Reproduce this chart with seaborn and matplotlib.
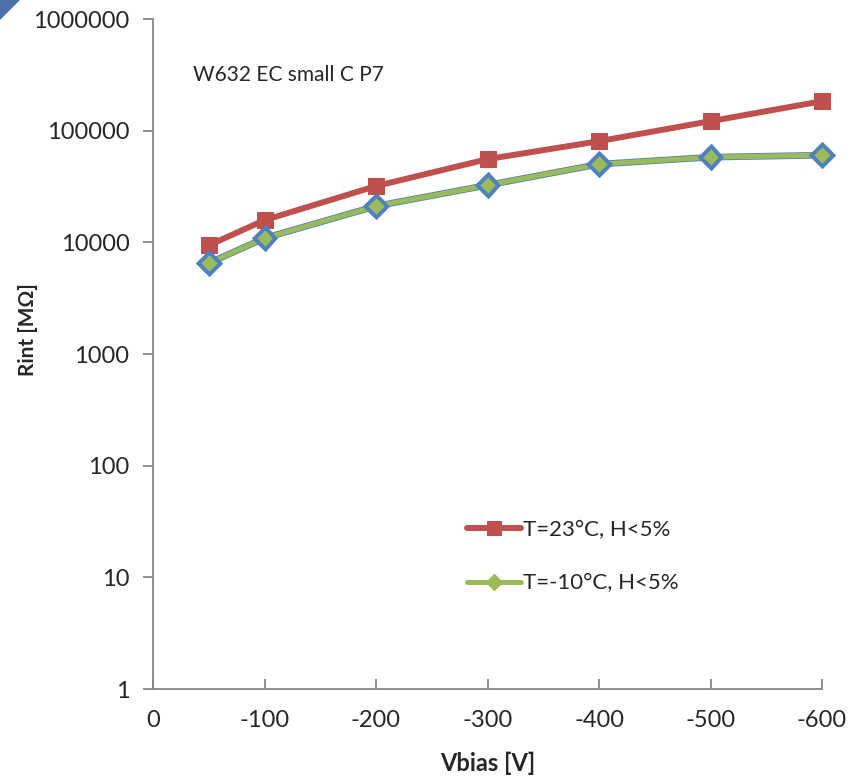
import matplotlib
matplotlib.use("Agg")
import matplotlib.pyplot as plt
import matplotlib.patheffects as pe
from matplotlib.patches import Polygon
import seaborn as sns
import pandas as pd

vbias = [-50, -100, -200, -300, -400, -500, -600]
rint_23 = [9400, 15800, 31900, 55600, 80500, 121600, 183600]
rint_m10 = [6500, 10900, 21100, 32500, 50100, 57900, 60300]
series_names = ["T=23°C, H<5%", "T=-10°C, H<5%"]
xticks = [0, -100, -200, -300, -400, -500, -600]
yticks = [1, 10, 100, 1000, 10000, 100000, 1000000]

df = pd.DataFrame({
    "Vbias": vbias * 2,
    "Rint": rint_23 + rint_m10,
    "series": [series_names[0]] * len(vbias) + [series_names[1]] * len(vbias),
})

sns.set_style("white")
plt.rcParams["font.family"] = ["Lato", "DejaVu Sans"]

fig = plt.figure(figsize=(8.61, 7.78), dpi=100)
ax = fig.add_axes([153 / 861, 1 - 689 / 778, (822 - 153) / 861, (689 - 19) / 778])

red = "#C0504D"
green = "#9BBB59"
blue = "#4F81BD"

sns.lineplot(data=df[df.series == series_names[0]], x="Vbias", y="Rint", ax=ax,
             color=red, linewidth=4.3, marker="s", markersize=11,
             markerfacecolor=red, markeredgecolor=red, label=series_names[0],
             sort=False, clip_on=False)
sns.lineplot(data=df[df.series == series_names[1]], x="Vbias", y="Rint", ax=ax,
             color=green, linewidth=3.6, marker="D", markersize=9,
             markerfacecolor=green, markeredgecolor=blue, markeredgewidth=0.9,
             label=series_names[1], sort=False, clip_on=False,
             path_effects=[pe.Stroke(linewidth=4.8, foreground=blue), pe.Normal()])

ax.set_yscale("log")
ax.set_ylim(1, 1000000)
ax.set_xlim(0, -600)
ax.set_xticks(xticks)
ax.set_xticklabels([str(v) for v in xticks])
ax.set_yticks(yticks)
ax.set_yticklabels([str(v) for v in yticks])
ax.yaxis.set_minor_locator(matplotlib.ticker.NullLocator())

for s in ["top", "right"]:
    ax.spines[s].set_visible(False)
for s in ["left", "bottom"]:
    ax.spines[s].set_color("#868686")
    ax.spines[s].set_linewidth(1.3)

ax.tick_params(axis="y", direction="out", length=7, width=1.3, color="#868686",
               labelsize=17, pad=10, left=True)
ax.tick_params(axis="x", direction="in", length=7, width=1.3, color="#868686",
               labelsize=17, pad=15, bottom=True)

ax.set_xlabel("Vbias [V]", fontsize=17, fontweight="bold")
ax.set_ylabel("Rint [MΩ]", fontsize=15, fontweight="bold")
ax.xaxis.set_label_coords(0.5, -(763 - 689) / 670)
ax.xaxis.label.set_va("center")
ax.yaxis.set_label_coords(-(153 - 28) / 669, (689 - 330) / 670)
ax.yaxis.label.set_va("center")

ax.text(0.06, 0.916, "W632 EC small C P7", transform=ax.transAxes,
        fontsize=15, ha="left", va="center")

leg = ax.legend(loc="upper left", bbox_to_anchor=(0.44, 0.282), frameon=False,
                fontsize=16, labelspacing=1.5, handlelength=2.4, handletextpad=0.1)
h = leg.legend_handles[1]
h.set_path_effects([])
h.set_markeredgecolor(green)
h.set_markersize(8)
leg.legend_handles[0].set_markersize(10)

fig.patches.append(Polygon([[0, 1], [20 / 861, 1], [0, 1 - 20 / 778]], closed=True,
                           transform=fig.transFigure, facecolor="#4F6FA8",
                           edgecolor="none"))

fig.savefig("out.png", dpi=100)
